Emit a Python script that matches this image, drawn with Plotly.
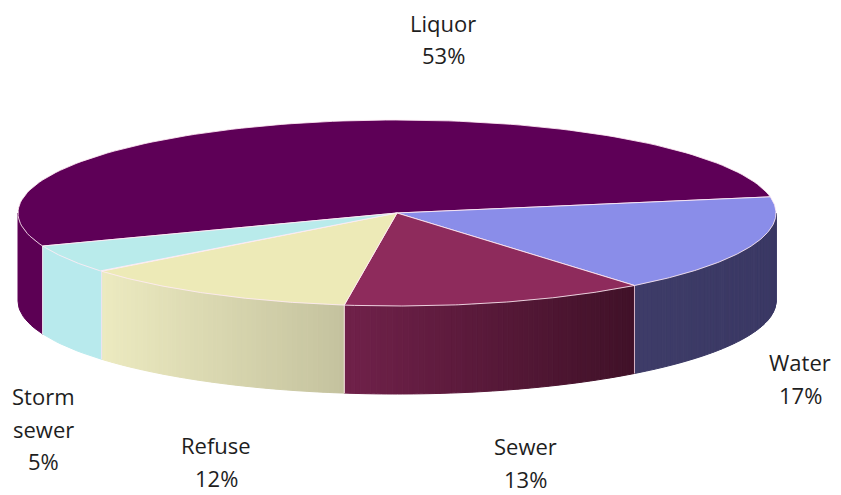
import numpy as np
import plotly.graph_objects as go

# ---- data ----
categories = ["Liquor", "Water", "Sewer", "Refuse", "Storm sewer"]
values = [53, 17, 13, 12, 5]

# ---- style ----
top_colors = ["#5e0057", "#8a8de9", "#8e2b5c", "#edeab7", "#b9ebeb"]
side_left = [(92, 0, 84), (62, 60, 104), (112, 33, 74), (236, 234, 192), (184, 234, 237)]
side_right = [(92, 0, 84), (58, 56, 100), (64, 17, 40), (196, 194, 158), (184, 234, 237)]

CX, CY, RX, RY, DEPTH = 397, 213, 379, 93, 88
START_ANGLE = 200.8  # degrees, slices run clockwise
label_pos = [(443, 22.5), (800, 362), (525, 446), (216, 445), (43, 396)]
LINE_PITCH = 32.5
PAGE_OFFSET = 8  # default body margin of the html page

total = float(sum(values))
spans = [360.0 * v / total for v in values]
starts, ends = [], []
a = START_ANGLE
for s in spans:
    starts.append(a)
    ends.append(a - s)
    a -= s


def pt(theta_deg, dz=0.0):
    t = np.radians(theta_deg)
    return CX + RX * np.cos(t), CY - RY * np.sin(t) + dz


fig = go.Figure()


def add_poly(xs, ys, fill, line_color, width):
    fig.add_trace(go.Scatter(
        x=list(xs), y=list(ys), mode="lines", fill="toself",
        fillcolor=fill, line=dict(color=line_color, width=width),
        hoverinfo="skip", showlegend=False))


# ---- sides (front visible arc: 180..360 deg) ----
def visible_interval(a_hi, a_lo):
    out = []
    for k in range(-2, 3):
        lo = max(a_lo, -180 + 360 * k)
        hi = min(a_hi, 0 + 360 * k)
        if hi > lo:
            out.append((hi, lo))
    return out


for i in range(len(values)):
    for hi, lo in visible_interval(starts[i], ends[i]):
        xl = min(pt(hi)[0], pt(lo)[0])
        xr = max(pt(hi)[0], pt(lo)[0])
        uniform = side_left[i] == side_right[i]
        n = 1 if uniform else max(2, int((hi - lo) / 0.8))
        edges = np.linspace(hi, lo, n + 1)
        for j in range(n):
            arc = np.linspace(edges[j], edges[j + 1], 12)
            tx, ty = pt(arc)
            bx, by = pt(arc[::-1], DEPTH)
            xm = pt((edges[j] + edges[j + 1]) / 2)[0]
            f = 0 if xr == xl else (xm - xl) / (xr - xl)
            c = tuple(int(round(side_left[i][k] + (side_right[i][k] - side_left[i][k]) * f)) for k in range(3))
            col = "rgb(%d,%d,%d)" % c
            add_poly(np.concatenate([tx, bx, tx[:1]]), np.concatenate([ty, by, ty[:1]]), col, col, 1)

# boundary lines on the side
for th in starts:
    if np.sin(np.radians(th)) < -0.01:
        x0, y0 = pt(th)
        x1, y1 = pt(th, DEPTH)
        fig.add_trace(go.Scatter(x=[x0, x1], y=[y0, y1], mode="lines",
                                 line=dict(color="rgba(255,225,240,0.8)", width=1),
                                 hoverinfo="skip", showlegend=False))

# ---- top faces ----
for i in range(len(values)):
    arc = np.linspace(starts[i], ends[i], 120)
    ax_, ay_ = pt(arc)
    xs = np.concatenate([[CX], ax_, [CX]])
    ys = np.concatenate([[CY], ay_, [CY]])
    add_poly(xs, ys, top_colors[i], "rgba(255,235,245,0.85)", 1)

# ---- labels ----
annotations = []
for i, name in enumerate(categories):
    lines = name.split(" ") + ["%d%%" % round(100 * values[i] / total)]
    x0, y0 = label_pos[i]
    for k, ln in enumerate(lines):
        annotations.append(dict(x=x0, y=y0 + k * LINE_PITCH, text=ln, showarrow=False,
                                xanchor="center", yanchor="middle",
                                font=dict(family="Open Sans", size=22, color="#1e1e1e")))

fig.update_layout(
    width=841, height=495, autosize=False,
    margin=dict(l=0, r=0, t=0, b=0),
    paper_bgcolor="white", plot_bgcolor="white",
    xaxis=dict(range=[PAGE_OFFSET, 841 + PAGE_OFFSET], visible=False, fixedrange=True),
    yaxis=dict(range=[495 + PAGE_OFFSET, PAGE_OFFSET], visible=False, fixedrange=True),
    annotations=annotations,
)

fig.write_html("out.html")
